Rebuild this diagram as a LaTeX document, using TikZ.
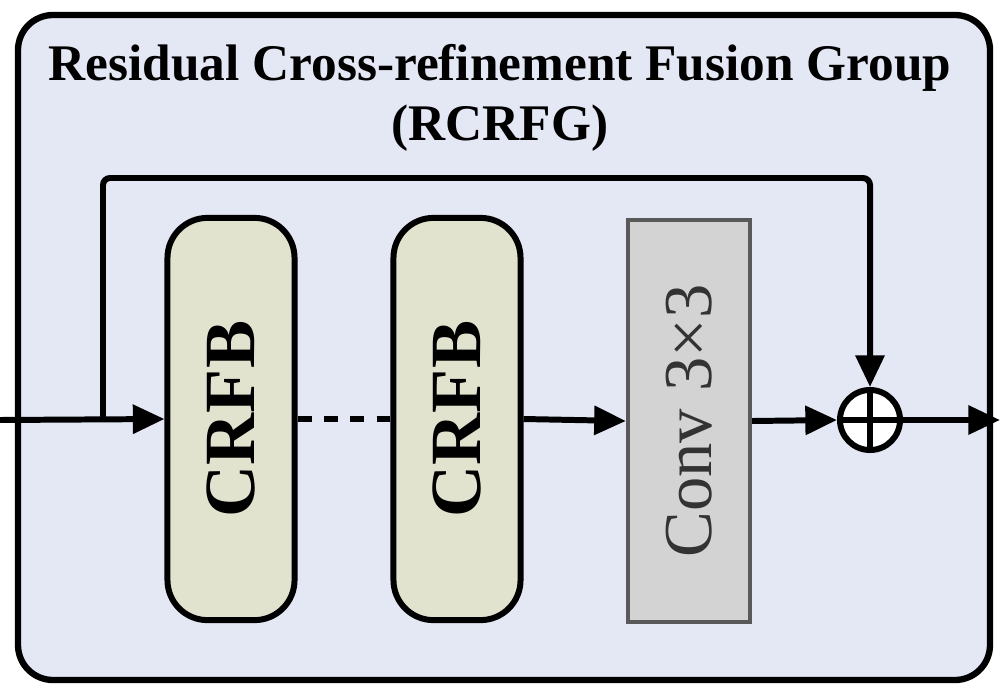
\documentclass[tikz,border=0pt]{standalone}
\usepackage{fontspec}
\setmainfont{Liberation Serif}
\usetikzlibrary{arrows.meta}
\definecolor{bgc}{HTML}{E4E7F4}
\definecolor{crfb}{HTML}{E2E3CF}
\definecolor{convc}{HTML}{D3D3D3}
\begin{document}
\begin{tikzpicture}[x=0.01cm,y=-0.01cm,
  ln/.style={line width=1.7pt},
  arr/.style={ln,-{Triangle[length=9pt,width=8pt]}},
  blk/.style={draw,ln,fill=crfb,rounded corners=0.4cm,minimum width=1.27cm,minimum height=4.02cm,inner sep=0pt},
  lab/.style={rotate=90,font=\fontsize{20.5}{24}\selectfont\bfseries}]
\useasboundingbox (0,0) rectangle (1000,694);
\draw[line width=1.8pt,fill=bgc,rounded corners=0.35cm] (18,15) rectangle (990,680);
\node[font=\fontsize{14.6}{17}\selectfont\bfseries,align=center] (title) at (500,98) {Residual Cross-refinement Fusion Group\\(RCRFG)};
\node[blk] (c1) at (231,419) {}; \node[lab] at (c1) {CRFB};
\node[blk] (c2) at (457,419) {}; \node[lab] at (c2) {CRFB};
\node[draw=black!65,line width=1.2pt,fill=convc,minimum width=1.22cm,minimum height=4.02cm,inner sep=0pt] (cv) at (689,421) {};
\node[rotate=90,font=\fontsize{19.5}{22}\selectfont,text=black!80] at (cv) {Conv 3×3};
\node[draw,ln,circle,fill=white,minimum size=0.6cm,inner sep=0pt] (p) at (870,420) {};
\draw[ln] (p.north)--(p.south) (p.west)--(p.east);
\coordinate (in) at (0,420); \coordinate (out) at (1000,420);
\coordinate (sp) at (103,420);
\draw[arr] (in) -- (c1.west);
\draw[ln,dash pattern=on 4pt off 3.5pt] (c1.east) -- (c2.west);
\draw[arr] (c2.east) -- (cv.west);
\draw[arr] (cv.east) -- (p.west);
\draw[arr] (p.east) -- (out);
\draw[arr,rounded corners=2pt] (sp) |- (870,178) -- (p.north);
\end{tikzpicture}
\end{document}
